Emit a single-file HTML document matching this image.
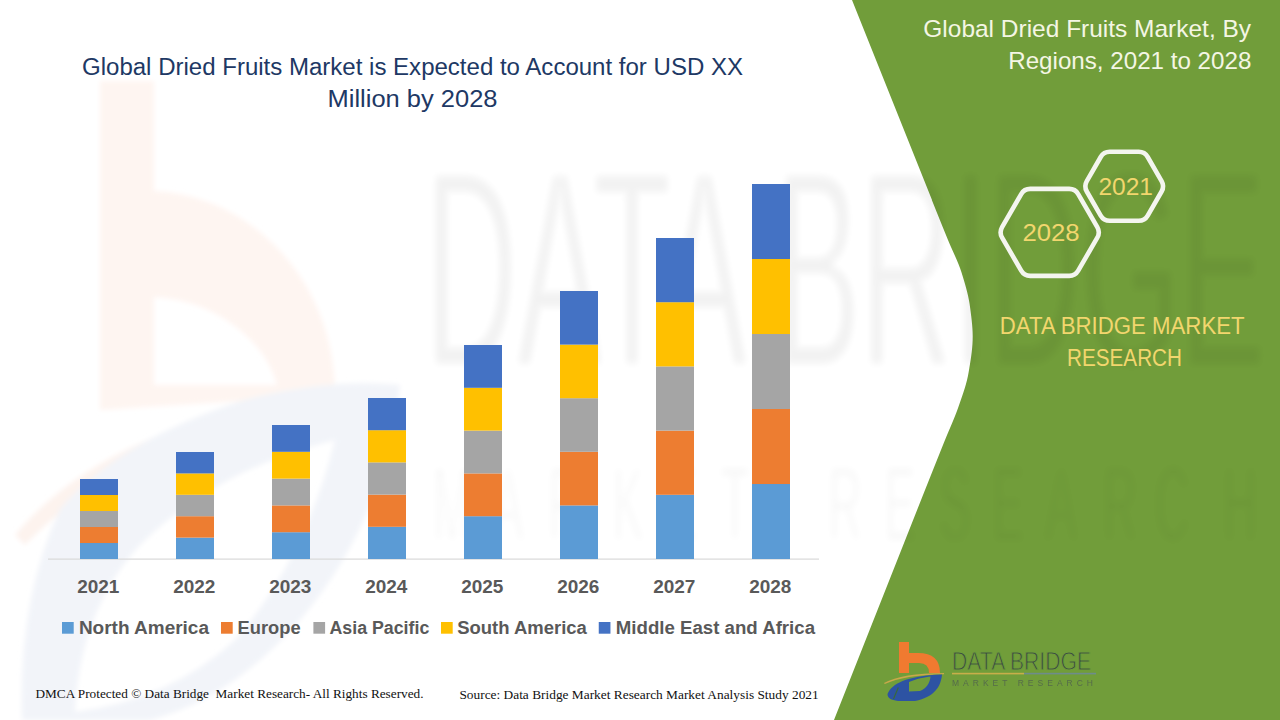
<!DOCTYPE html>
<html><head><meta charset="utf-8">
<style>
html,body{margin:0;padding:0;background:#fff;overflow:hidden;}
svg{display:block;}
text{font-family:"Liberation Sans",sans-serif;}
.serif{font-family:"Liberation Serif",serif;}
</style></head><body>
<svg width="1280" height="720" viewBox="0 0 1280 720">
<defs>
<filter id="blur2" x="-10%" y="-10%" width="120%" height="120%"><feGaussianBlur stdDeviation="2.5"/></filter>
<filter id="blur05"><feGaussianBlur stdDeviation="0.5"/></filter>
<filter id="blur4" x="-5%" y="-20%" width="110%" height="140%"><feGaussianBlur stdDeviation="3"/></filter>
</defs>
<rect width="1280" height="720" fill="#ffffff"/>
<!-- watermark b (left) -->
<g opacity="1" filter="url(#blur2)">
<path d="M100,81 L154,81 L154,191 C250,195 335,280 335,395 L100,410 Z M154,297 C215,300 265,340 277,385 L154,385 Z" fill="#FEF5F1" fill-rule="evenodd"/>
<path d="M15,535 Q110,420 345,390 L345,402 Q130,435 25,545 Z" fill="#FDF3EE"/>
<path d="M22,720 Q18,600 60,509 Q120,440 244,400 Q330,378 400,385 Q385,520 300,620 Q230,700 150,720 Z M75,712 Q80,610 140,545 Q215,470 335,440 Q305,560 235,640 Q170,700 75,712 Z" fill="#F2F4F9" fill-rule="evenodd"/>
</g>
<!-- green panel -->
<path d="M852,0 L932.0,200 L931.84,200 L933.44,204 L935.05,208 L936.65,212 L938.26,216 L939.88,220 L941.49,224 L943.11,228 L944.74,232 L946.37,236 L948.00,240 L949.69,244 L951.45,248 L953.24,252 L955.04,256 L956.79,260 L958.46,264 L960.00,268 L961.38,272 L962.62,276 L963.83,280 L965.00,284 L966.11,288 L967.15,292 L968.09,296 L968.91,300 L969.61,304 L970.17,308 L970.69,312 L971.20,316 L971.66,320 L972.06,324 L972.38,328 L972.60,332 L972.70,336 L972.65,340 L972.46,344 L972.14,348 L971.72,352 L971.21,356 L970.63,360 L970.00,364 L969.34,368 L968.67,372 L967.94,376 L967.04,380 L965.99,384 L964.82,388 L963.54,392 L962.20,396 L960.82,400 L959.43,404 L958.05,408 L956.58,412 L955.03,416 L953.40,420 L951.73,424 L950.03,428 L948.32,432 L946.64,436 L945.00,440 L943.39,444 L941.78,448 L940.18,452 L938.58,456 L936.98,460 L935.38,464 L933.78,468 L932.19,472 L930.59,476 L929.00,480 L927.41,484 L925.81,488 L924.22,492 L922.63,496 L834,720 L1280,720 L1280,0 Z" fill="#719D3A"/>
<!-- watermark text -->
<mask id="wmmask" maskUnits="userSpaceOnUse" x="0" y="0" width="1280" height="720">
<rect width="1280" height="720" fill="black"/>
<g filter="url(#blur4)">
<text x="425" y="366" font-size="280" textLength="840" lengthAdjust="spacingAndGlyphs" fill="#fff" stroke="#000" stroke-width="10">DATA BRIDGE</text>
</g>
<g filter="url(#blur4)" opacity="0.75">
<text transform="translate(452,540) scale(0.45,1)" text-anchor="middle" font-size="103" fill="#fff" stroke="#000" stroke-width="6">M</text>
<text transform="translate(508,540) scale(0.45,1)" text-anchor="middle" font-size="103" fill="#fff" stroke="#000" stroke-width="6">A</text>
<text transform="translate(565,540) scale(0.45,1)" text-anchor="middle" font-size="103" fill="#fff" stroke="#000" stroke-width="6">R</text>
<text transform="translate(628,540) scale(0.45,1)" text-anchor="middle" font-size="103" fill="#fff" stroke="#000" stroke-width="6">K</text>
<text transform="translate(682,540) scale(0.45,1)" text-anchor="middle" font-size="103" fill="#fff" stroke="#000" stroke-width="6">E</text>
<text transform="translate(735,540) scale(0.45,1)" text-anchor="middle" font-size="103" fill="#fff" stroke="#000" stroke-width="6">T</text>
<text transform="translate(845,540) scale(0.45,1)" text-anchor="middle" font-size="103" fill="#fff" stroke="#000" stroke-width="6">R</text>
<text transform="translate(900,540) scale(0.45,1)" text-anchor="middle" font-size="103" fill="#fff" stroke="#000" stroke-width="6">E</text>
<text transform="translate(955,540) scale(0.45,1)" text-anchor="middle" font-size="103" fill="#fff" stroke="#000" stroke-width="6">S</text>
<text transform="translate(1008,540) scale(0.45,1)" text-anchor="middle" font-size="103" fill="#fff" stroke="#000" stroke-width="6">E</text>
<text transform="translate(1061,540) scale(0.45,1)" text-anchor="middle" font-size="103" fill="#fff" stroke="#000" stroke-width="6">A</text>
<text transform="translate(1120,540) scale(0.45,1)" text-anchor="middle" font-size="103" fill="#fff" stroke="#000" stroke-width="6">R</text>
<text transform="translate(1172,540) scale(0.45,1)" text-anchor="middle" font-size="103" fill="#fff" stroke="#000" stroke-width="6">C</text>
<text transform="translate(1240,540) scale(0.45,1)" text-anchor="middle" font-size="103" fill="#fff" stroke="#000" stroke-width="6">H</text>
</g>
</mask>
<rect width="1280" height="720" fill="#000" opacity="0.05" mask="url(#wmmask)"/>
<!-- title -->
<g fill="#203864" font-size="24.7">
<text x="82" y="74.7" textLength="661" lengthAdjust="spacingAndGlyphs">Global Dried Fruits Market is Expected to Account for USD XX</text>
<text x="327.5" y="106.5" textLength="170" lengthAdjust="spacingAndGlyphs">Million by 2028</text>
</g>
<!-- right title -->
<g fill="#F4F6E4" font-size="23.7">
<text x="923.3" y="36.7" textLength="327.8" lengthAdjust="spacingAndGlyphs">Global Dried Fruits Market, By</text>
<text x="1008.2" y="68.5" textLength="243.2" lengthAdjust="spacingAndGlyphs">Regions, 2021 to 2028</text>
</g>
<!-- hexagons -->
<g fill="none" stroke="#F4F5EF" stroke-width="4.6" stroke-linejoin="round">
<path d="M1002.10,237.60 Q999.10,232.40 1002.10,227.20 L1021.20,194.10 Q1024.20,188.90 1030.20,188.90 L1069.20,188.90 Q1075.20,188.90 1078.20,194.10 L1097.30,227.20 Q1100.30,232.40 1097.30,237.60 L1078.20,270.70 Q1075.20,275.90 1069.20,275.90 L1030.20,275.90 Q1024.20,275.90 1021.20,270.70 Z"/>
<path d="M1086.80,191.50 Q1083.80,186.30 1086.80,181.10 L1100.70,157.00 Q1103.70,151.80 1109.70,151.80 L1138.70,151.80 Q1144.70,151.80 1147.70,157.00 L1161.60,181.10 Q1164.60,186.30 1161.60,191.50 L1147.70,215.60 Q1144.70,220.80 1138.70,220.80 L1109.70,220.80 Q1103.70,220.80 1100.70,215.60 Z"/>
</g>
<g fill="#F2D66E" font-size="23">
<text x="1022.4" y="241" textLength="57.2" lengthAdjust="spacingAndGlyphs">2028</text>
<text x="1098.4" y="195.2" textLength="54.6" lengthAdjust="spacingAndGlyphs">2021</text>
</g>
<g fill="#F2D66E" font-size="24.7">
<text x="999.8" y="333.9" textLength="244.8" lengthAdjust="spacingAndGlyphs">DATA BRIDGE MARKET</text>
<text x="1067" y="366.2" textLength="115" lengthAdjust="spacingAndGlyphs">RESEARCH</text>
</g>
<!-- axis -->
<rect x="48" y="558.5" width="771" height="1.2" fill="#D9D9D9"/>
<!-- bars -->
<rect x="80" y="543.00" width="38" height="16.01" fill="#5B9BD5"/>
<rect x="80" y="527.00" width="38" height="16.01" fill="#ED7D31"/>
<rect x="80" y="511.00" width="38" height="16.01" fill="#A5A5A5"/>
<rect x="80" y="495.00" width="38" height="16.01" fill="#FFC000"/>
<rect x="80" y="479.00" width="38" height="16.01" fill="#4472C4"/>
<rect x="176" y="537.60" width="38" height="21.41" fill="#5B9BD5"/>
<rect x="176" y="516.20" width="38" height="21.41" fill="#ED7D31"/>
<rect x="176" y="494.80" width="38" height="21.41" fill="#A5A5A5"/>
<rect x="176" y="473.40" width="38" height="21.41" fill="#FFC000"/>
<rect x="176" y="452.00" width="38" height="21.41" fill="#4472C4"/>
<rect x="272" y="532.20" width="38" height="26.81" fill="#5B9BD5"/>
<rect x="272" y="505.40" width="38" height="26.81" fill="#ED7D31"/>
<rect x="272" y="478.60" width="38" height="26.81" fill="#A5A5A5"/>
<rect x="272" y="451.80" width="38" height="26.81" fill="#FFC000"/>
<rect x="272" y="425.00" width="38" height="26.81" fill="#4472C4"/>
<rect x="368" y="526.80" width="38" height="32.21" fill="#5B9BD5"/>
<rect x="368" y="494.60" width="38" height="32.21" fill="#ED7D31"/>
<rect x="368" y="462.40" width="38" height="32.21" fill="#A5A5A5"/>
<rect x="368" y="430.20" width="38" height="32.21" fill="#FFC000"/>
<rect x="368" y="398.00" width="38" height="32.21" fill="#4472C4"/>
<rect x="464" y="516.20" width="38" height="42.81" fill="#5B9BD5"/>
<rect x="464" y="473.40" width="38" height="42.81" fill="#ED7D31"/>
<rect x="464" y="430.60" width="38" height="42.81" fill="#A5A5A5"/>
<rect x="464" y="387.80" width="38" height="42.81" fill="#FFC000"/>
<rect x="464" y="345.00" width="38" height="42.81" fill="#4472C4"/>
<rect x="560" y="505.40" width="38" height="53.61" fill="#5B9BD5"/>
<rect x="560" y="451.80" width="38" height="53.61" fill="#ED7D31"/>
<rect x="560" y="398.20" width="38" height="53.61" fill="#A5A5A5"/>
<rect x="560" y="344.60" width="38" height="53.61" fill="#FFC000"/>
<rect x="560" y="291.00" width="38" height="53.61" fill="#4472C4"/>
<rect x="656" y="494.80" width="38" height="64.21" fill="#5B9BD5"/>
<rect x="656" y="430.60" width="38" height="64.21" fill="#ED7D31"/>
<rect x="656" y="366.40" width="38" height="64.21" fill="#A5A5A5"/>
<rect x="656" y="302.20" width="38" height="64.21" fill="#FFC000"/>
<rect x="656" y="238.00" width="38" height="64.21" fill="#4472C4"/>
<rect x="752" y="484.00" width="38" height="75.01" fill="#5B9BD5"/>
<rect x="752" y="409.00" width="38" height="75.01" fill="#ED7D31"/>
<rect x="752" y="334.00" width="38" height="75.01" fill="#A5A5A5"/>
<rect x="752" y="259.00" width="38" height="75.01" fill="#FFC000"/>
<rect x="752" y="184.00" width="38" height="75.01" fill="#4472C4"/>
<!-- year labels -->
<g fill="#595959" font-size="17.5" font-weight="bold">
<text x="77.2" y="592.8" textLength="42.2" lengthAdjust="spacingAndGlyphs">2021</text>
<text x="173.2" y="592.8" textLength="42.2" lengthAdjust="spacingAndGlyphs">2022</text>
<text x="269.2" y="592.8" textLength="42.2" lengthAdjust="spacingAndGlyphs">2023</text>
<text x="365.2" y="592.8" textLength="42.2" lengthAdjust="spacingAndGlyphs">2024</text>
<text x="461.2" y="592.8" textLength="42.2" lengthAdjust="spacingAndGlyphs">2025</text>
<text x="557.2" y="592.8" textLength="42.2" lengthAdjust="spacingAndGlyphs">2026</text>
<text x="653.2" y="592.8" textLength="42.2" lengthAdjust="spacingAndGlyphs">2027</text>
<text x="749.2" y="592.8" textLength="42.2" lengthAdjust="spacingAndGlyphs">2028</text>
</g>
<!-- legend -->
<g fill="#595959" font-size="17.5" font-weight="bold">
<rect x="62" y="622" width="11.7" height="11.7" fill="#5B9BD5"/>
<text x="78.9" y="634" textLength="130.1" lengthAdjust="spacingAndGlyphs">North America</text>
<rect x="221" y="622" width="11.7" height="11.7" fill="#ED7D31"/>
<text x="237.6" y="634" textLength="63.0" lengthAdjust="spacingAndGlyphs">Europe</text>
<rect x="313.4" y="622" width="11.7" height="11.7" fill="#A5A5A5"/>
<text x="329.5" y="634" textLength="99.80000000000001" lengthAdjust="spacingAndGlyphs">Asia Pacific</text>
<rect x="441" y="622" width="11.7" height="11.7" fill="#FFC000"/>
<text x="457.2" y="634" textLength="129.70000000000002" lengthAdjust="spacingAndGlyphs">South America</text>
<rect x="598.75" y="622" width="11.7" height="11.7" fill="#4472C4"/>
<text x="615.8000000000001" y="634" textLength="199.20000000000002" lengthAdjust="spacingAndGlyphs">Middle East and Africa</text>
</g>
<!-- footer -->
<g fill="#111" font-size="13.4" class="serif" style="white-space:pre">
<text class="serif" x="35.5" y="698.3" textLength="388" lengthAdjust="spacingAndGlyphs">DMCA Protected © Data Bridge &#160;Market Research- All Rights Reserved.</text>
<text class="serif" x="459.4" y="699.3" textLength="359.3" lengthAdjust="spacingAndGlyphs">Source: Data Bridge Market Research Market Analysis Study 2021</text>
</g>
<!-- logo -->
<g>
<path d="M899,642 L909,642 L909,653 L918,653 Q940,653 940,673 L929,673 Q929,663 919,663 L909,663 L909,673 L899,673 Z" fill="#F07A30"/>
<path d="M884,683 Q902,673 944,672.9 L944,674.2 Q904,675 884.8,684 Z" fill="#C9A84A"/>
<path d="M887.5,694 C892,684 905,676 942,674.5 C941,686 935,697 915,701 L898,701 C891,700 887.5,698 887.5,694 Z M909,682 C916,679 925,677 930.5,676.5 C930,683 926,689 920,691 L909,691.4 Z" fill="#2D53A3" fill-rule="evenodd"/>
<path d="M898.3,687.5 L893.5,699" stroke="#3a6a3a" stroke-width="1.2"/>
<text x="952" y="669.8" font-size="25.5" fill="#3B4A43" stroke="#6F9E3A" stroke-width="0.9" textLength="139" lengthAdjust="spacingAndGlyphs">DATA BRIDGE</text>
<rect x="952" y="672.8" width="72" height="1.6" fill="#C8AE4A"/>
<rect x="1024" y="672.8" width="72" height="1.6" fill="#6E8C8C"/>
<text x="952" y="686.3" font-size="8.5" fill="#556B4A" textLength="141" lengthAdjust="spacing" filter="url(#blur05)">MARKET   RESEARCH</text>
</g>
</svg>
</body></html>
